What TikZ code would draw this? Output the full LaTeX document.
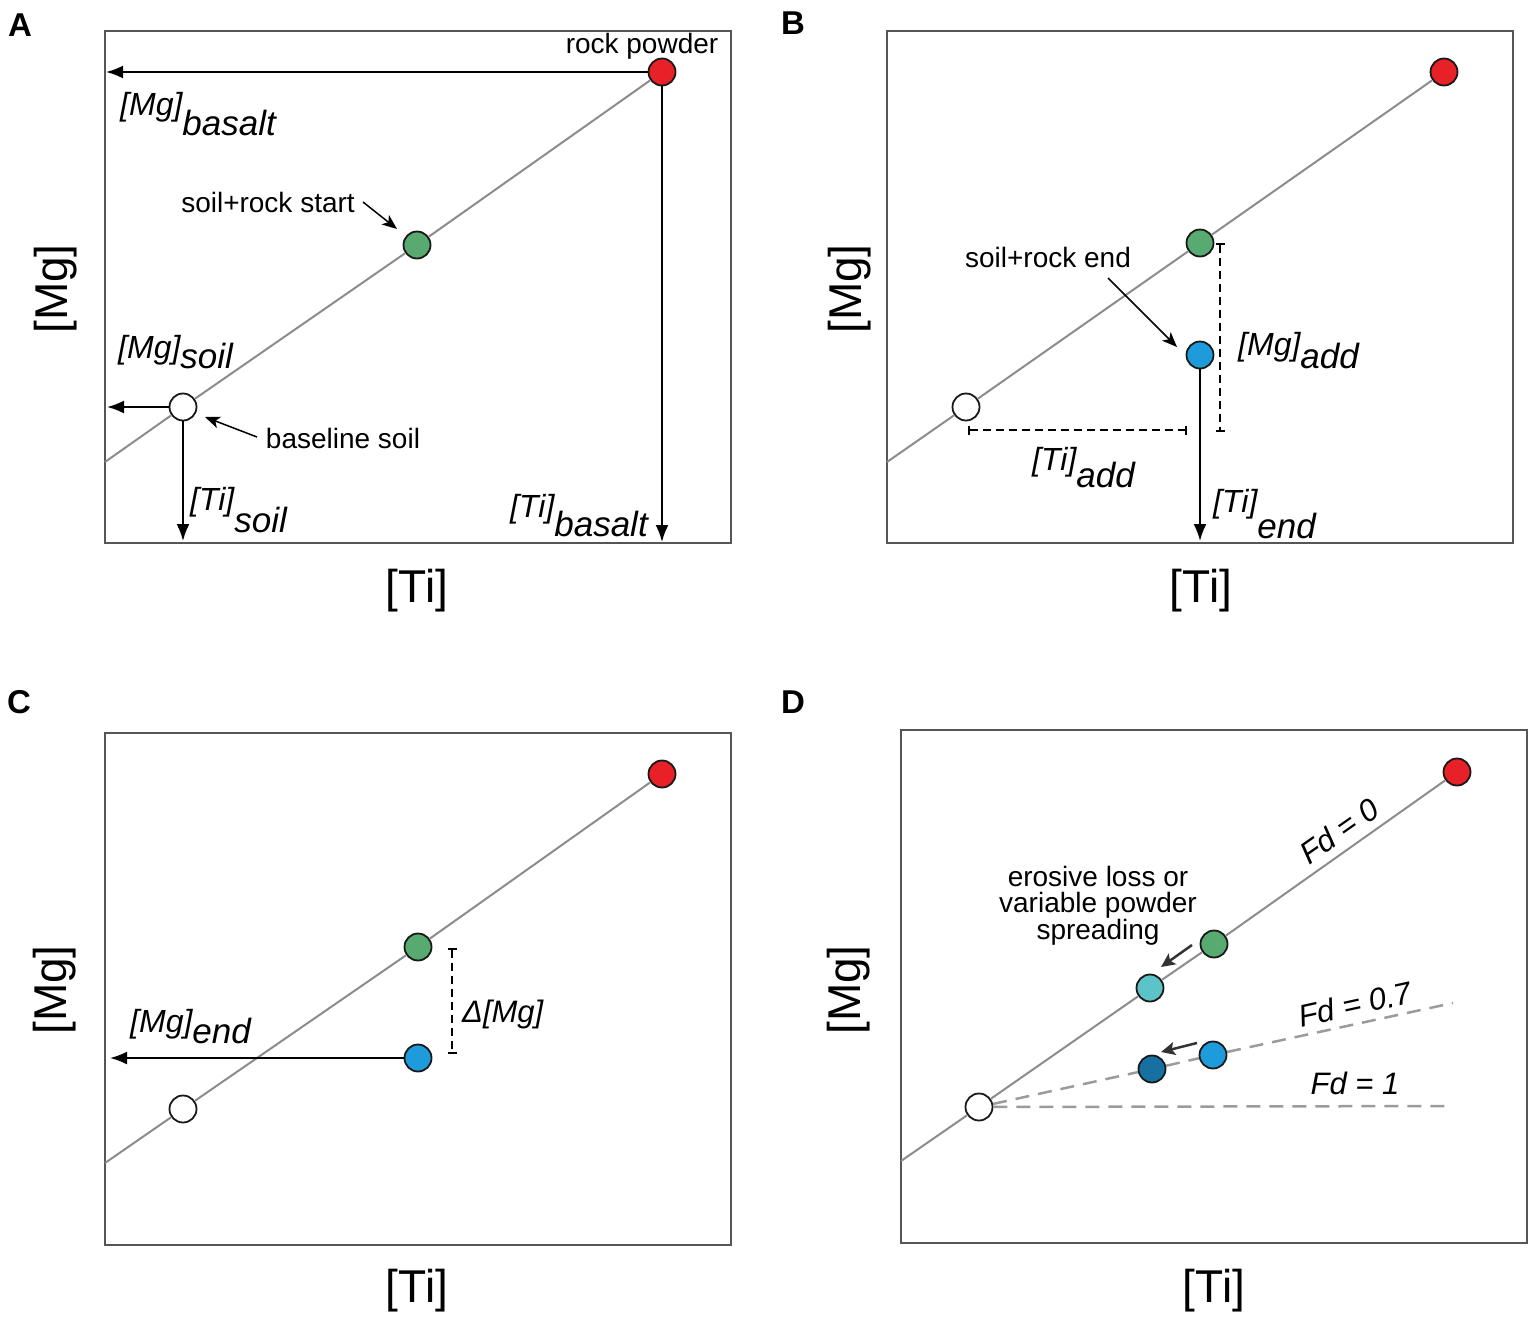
\documentclass[tikz,border=0pt]{standalone}
\usepackage{fontspec}
\setmainfont{Liberation Sans}
\usetikzlibrary{arrows.meta}
\definecolor{cred}{RGB}{232,32,40}
\definecolor{cgreen}{RGB}{88,170,112}
\definecolor{cblue}{RGB}{30,155,218}
\definecolor{ccyan}{RGB}{92,196,200}
\definecolor{cdblue}{RGB}{22,112,162}
\definecolor{boxgray}{RGB}{85,85,85}
\definecolor{linegray}{RGB}{140,140,140}
\definecolor{fdgray}{RGB}{155,155,155}
\definecolor{darrow}{RGB}{51,51,51}
\newcommand{\conc}[3]{{\itshape\fontsize{32}{32}\selectfont\raisebox{#1pt}{[#2]}}{\itshape\fontsize{35}{35}\selectfont #3}}
\begin{document}
\begin{tikzpicture}[x=1pt,y=-1pt,
  box/.style={draw=boxgray,line width=2pt},
  mix/.style={draw=linegray,line width=2pt},
  dot/.style={circle,draw=black!90,line width=1.8pt,minimum size=27pt,inner sep=0pt},
  arr/.style={line width=2pt,-{Latex[length=17pt,width=13pt]}},
  note/.style={line width=1.5pt,-{Stealth[length=15pt,width=12pt,inset=4pt]}},
  darr/.style={draw=darrow,line width=2.5pt,-{Stealth[length=14pt,width=13pt,inset=3pt]}},
  meas/.style={line width=2pt,dash pattern=on 8pt off 5pt,{Bar[width=9pt]}-{Bar[width=9pt]}},
  fdline/.style={draw=fdgray,line width=2.5pt,dash pattern=on 14pt off 9pt},
  ann/.style={font=\fontsize{28}{26}\selectfont,inner sep=0pt},
  lab/.style={anchor=base west,inner sep=0pt},
  axis/.style={font=\fontsize{46}{46}\selectfont,inner sep=0pt},
  letter/.style={font=\bfseries\fontsize{33}{33}\selectfont,inner sep=0pt},
  fd/.style={font=\itshape\fontsize{31}{31}\selectfont,inner sep=0pt}
]
\useasboundingbox (0,0) rectangle (1535,1323);

% ---------------- Panel A ----------------
\node[letter] (letA) at (20,25) {A};
\draw[box] (105,31) rectangle (731,543);
\node[axis] (AxTi) at (417,591) {[Ti]};
\node[axis,rotate=90] (AxMg) at (56,289) {[Mg]};
\node[dot,fill=white] (Aw) at (183,407) {};
\node[dot,fill=cgreen] (Ag) at (417,245) {};
\node[dot,fill=cred] (Ar) at (662,72) {};
\coordinate (AL) at (105,462);
\draw[mix] (AL) -- (Aw) -- (Ag) -- (Ar);
\coordinate (ArL) at (106,72);
\coordinate (ArB) at (662,542);
\coordinate (AwL) at (107,407);
\coordinate (AwB) at (183,541);
\draw[arr] (Ar) -- (ArL);
\draw[arr] (Ar) -- (ArB);
\draw[arr] (Aw) -- (AwL);
\draw[arr] (Aw) -- (AwB);
\node[ann,anchor=base] (Trock) at (642,53) {rock powder};
\node[ann,anchor=base] (Tstart) at (268,212) {soil+rock start};
\coordinate (TstartA) at (363,202);
\coordinate (TstartB) at (397,229);
\draw[note] (TstartA) -- (TstartB);
\node[ann,anchor=base] (Tbase) at (343,448) {baseline soil};
\coordinate (TbaseA) at (257,437);
\coordinate (TbaseB) at (205,417);
\draw[note] (TbaseA) -- (TbaseB);
\node[lab] (LMgbas) at (120,135) {\conc{20}{Mg}{basalt}};
\node[lab] (LMgsoil) at (118,368) {\conc{10}{Mg}{soil}};
\node[lab] (LTisoil) at (190,532) {\conc{22}{Ti}{soil}};
\node[lab] (LTibas) at (510,536) {\conc{19}{Ti}{basalt}};

% ---------------- Panel B ----------------
\node[letter] (letB) at (793,23) {B};
\draw[box] (887,31) rectangle (1513,543);
\node[axis] (BxTi) at (1201,591) {[Ti]};
\node[axis,rotate=90] (BxMg) at (850,289) {[Mg]};
\node[dot,fill=white] (Bw) at (966,407) {};
\node[dot,fill=cgreen] (Bg) at (1200,243) {};
\node[dot,fill=cblue] (Bb) at (1200,355) {};
\node[dot,fill=cred] (Br) at (1444,72) {};
\coordinate (BL) at (887,462);
\draw[mix] (BL) -- (Bw) -- (Bg) -- (Br);
\coordinate (BbB) at (1200,541);
\draw[arr] (Bb) -- (BbB);
\coordinate (BmA) at (968,430);
\coordinate (BmB) at (1187,430);
\draw[meas] (BmA) -- (BmB);
\coordinate (BmC) at (1220,243);
\coordinate (BmD) at (1220,432);
\draw[meas] (BmC) -- (BmD);
\node[ann,anchor=base] (Tend) at (1048,267) {soil+rock end};
\coordinate (TendA) at (1108,278);
\coordinate (TendB) at (1177,347);
\draw[note] (TendA) -- (TendB);
\node[lab] (LMgadd) at (1238,368) {\conc{13}{Mg}{add}};
\node[lab] (LTiadd) at (1032,487) {\conc{17}{Ti}{add}};
\node[lab] (LTiend) at (1213,538) {\conc{26}{Ti}{end}};

% ---------------- Panel C ----------------
\node[letter] (letC) at (19,702) {C};
\draw[box] (105,733) rectangle (731,1245);
\node[axis] (CxTi) at (417,1291) {[Ti]};
\node[axis,rotate=90] (CxMg) at (55,990) {[Mg]};
\node[dot,fill=white] (Cw) at (183,1109) {};
\node[dot,fill=cgreen] (Cg) at (418,947) {};
\node[dot,fill=cblue] (Cb) at (418,1058) {};
\node[dot,fill=cred] (Cr) at (662,774) {};
\coordinate (CL) at (105,1163);
\draw[mix] (CL) -- (Cw) -- (Cg) -- (Cr);
\coordinate (CbL) at (110,1058);
\draw[arr] (Cb) -- (CbL);
\coordinate (CmA) at (452,948);
\coordinate (CmB) at (452,1054);
\draw[meas] (CmA) -- (CmB);
\node[anchor=base west,inner sep=0pt,font=\itshape\fontsize{31}{31}\selectfont] (LdMg) at (462,1022) {Δ[Mg]};
\node[lab] (LMgend) at (130,1043) {\conc{11}{Mg}{end}};

% ---------------- Panel D ----------------
\node[letter] (letD) at (793,702) {D};
\draw[box] (901,730) rectangle (1527,1243);
\node[axis] (DxTi) at (1214,1291) {[Ti]};
\node[axis,rotate=90] (DxMg) at (849,990) {[Mg]};
\node[dot,fill=white] (Dw) at (979,1107) {};
\node[dot,fill=ccyan] (Dc) at (1150,988) {};
\node[dot,fill=cgreen] (Dg) at (1214,944) {};
\node[dot,fill=cblue] (Dlb) at (1213,1055) {};
\node[dot,fill=cdblue] (Ddb) at (1152,1069) {};
\node[dot,fill=cred] (Dr) at (1457,772) {};
\coordinate (DL) at (901,1161);
\coordinate (D07) at (1453,1003);
\coordinate (D1) at (1453,1106);
\draw[fdline] (Dw) -- (Ddb) -- (Dlb) -- (D07);
\draw[fdline] (Dw) -- (D1);
\draw[mix] (DL) -- (Dw) -- (Dc) -- (Dg) -- (Dr);
\coordinate (DaA) at (1192,945);
\coordinate (DaB) at (1161,967);
\draw[darr] (DaA) -- (DaB);
\coordinate (DbA) at (1197,1043);
\coordinate (DbB) at (1161,1052);
\draw[darr] (DbA) -- (DbB);
\node[ann,align=center] (Terosive) at (1098,906) {erosive loss or\\variable powder\\spreading};
\node[fd,rotate=35] (Fd0) at (1339,831) {Fd = 0};
\node[fd,rotate=12.4] (Fd07) at (1355,1004) {Fd = 0.7};
\node[fd] (Fd1) at (1355,1083) {Fd = 1};
\end{tikzpicture}
\end{document}
